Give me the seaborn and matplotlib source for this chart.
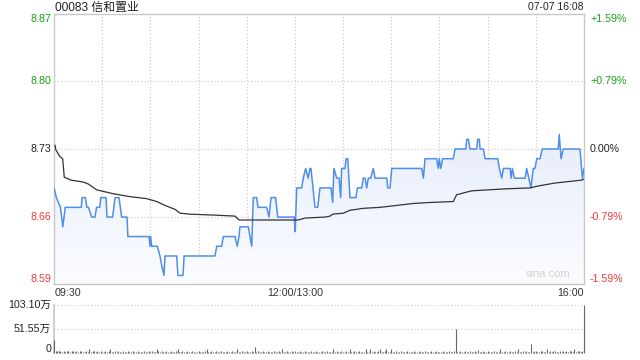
import numpy as np
import pandas as pd
import matplotlib
matplotlib.use("Agg")
import matplotlib.pyplot as plt
import seaborn as sns
from matplotlib.patches import Polygon
from matplotlib.colors import LinearSegmentedColormap
from matplotlib import transforms

# ---------------- data ----------------
title = "00083 信和置业"
stamp = "07-07 16:08"
prev_close = 8.73
price_ticks = [8.87, 8.80, 8.73, 8.66, 8.59]
pct_ticks = ["+1.59%", "+0.79%", "0.00%", "-0.79%", "-1.59%"]
time_labels = ["09:30", "12:00/13:00", "16:00"]
vol_ticks = ["103.10万", "51.55万", "0"]

# price polyline (minute index 0..330, price)
price_t = [0, 1.5, 4, 5.5, 7, 17, 17.5, 19.5, 20.5, 21.5, 23.5, 25.5, 26.5, 28.5, 29.1,
           32.4, 33, 36.5, 38, 40.5, 42.1, 45.5, 46, 59.2, 59.8, 60.2, 60.8, 64.3, 66,
           67.1, 68.5, 69.1, 76.4, 77.2, 80.3, 81, 100.2, 101.3, 104.4, 105.4, 112.7,
           114.1, 115.2, 115.8, 121, 123.1, 124.1, 126.2, 127, 132.4, 133.9, 135.1, 138,
           139.3, 149.6, 150.2, 151.1, 154.2, 155.2, 156.7, 158.2, 159.4, 160, 162.5,
           164.2, 165.6, 172.5, 173.5, 174.3, 176, 177.5, 178.5, 179.1, 181.2, 181.8,
           182.9, 184.3, 188, 188.9, 191.6, 192.6, 193.7, 194.7, 195.7, 197.2, 198.8,
           199.9, 207.2, 207.8, 209.2, 210.3, 229, 230, 231, 238.3, 239.3, 239.9, 240.8,
           242, 248.6, 249.7, 256.4, 257, 258, 259, 263.2, 263.8, 264.8, 265.3, 267.3,
           268.4, 276.3, 277.3, 278.8, 279.8, 284, 284.6, 285.4, 286.6, 293.3, 294.3,
           297, 298.4, 299.5, 300.6, 302.6, 304, 314, 314.6, 315.7, 317.1, 327.5, 329, 330]
price_v = [8.69, 8.68, 8.67, 8.65, 8.67, 8.67, 8.68, 8.68, 8.67, 8.67, 8.66, 8.66, 8.67,
           8.67, 8.68, 8.68, 8.66, 8.66, 8.68, 8.68, 8.66, 8.66, 8.64, 8.64, 8.63, 8.64,
           8.63, 8.63, 8.62, 8.61, 8.60, 8.62, 8.62, 8.60, 8.60, 8.62, 8.62, 8.63, 8.63,
           8.64, 8.64, 8.63, 8.64, 8.65, 8.65, 8.63, 8.68, 8.68, 8.67, 8.67, 8.66, 8.68,
           8.68, 8.66, 8.66, 8.645, 8.69, 8.69, 8.70, 8.71, 8.70, 8.71, 8.71, 8.67,
           8.67, 8.69, 8.69, 8.675, 8.71, 8.70, 8.70, 8.68, 8.71, 8.71, 8.72,
           8.72, 8.68, 8.68, 8.69, 8.69, 8.70, 8.70, 8.69, 8.70, 8.70, 8.71,
           8.70, 8.70, 8.69, 8.69, 8.71, 8.71, 8.70, 8.72, 8.72, 8.71, 8.72, 8.71,
           8.72, 8.72, 8.73, 8.73, 8.74, 8.74, 8.73, 8.73, 8.74, 8.74, 8.73, 8.73,
           8.72, 8.72, 8.71, 8.70, 8.71, 8.71, 8.70, 8.71, 8.70, 8.70, 8.71,
           8.69, 8.71, 8.71, 8.72, 8.72, 8.73, 8.73, 8.745, 8.72, 8.73, 8.73, 8.70, 8.71]

# average price polyline
avg_t = [0.6, 1.2, 3.7, 5.4, 6.4, 10.6, 18.2, 21.4, 26.6, 31.8, 36.9, 47.3, 57.7, 63.9,
         69.1, 75.3, 78.5, 84.7, 100.2, 112.7, 115.2, 152.1, 156.3, 168.7, 171.9, 173.5,
         180.1, 184.3, 192.6, 203, 213.4, 223.7, 234.1, 248.6, 250.7, 260.1, 270.4,
         280.8, 296.4, 301.6, 311.9, 328.6, 330]
avg_v = [8.734, 8.729, 8.722, 8.720, 8.701, 8.698, 8.696, 8.694, 8.688, 8.686, 8.684,
         8.681, 8.679, 8.676, 8.672, 8.668, 8.664, 8.663, 8.662, 8.661, 8.657, 8.657,
         8.659, 8.660, 8.661, 8.663, 8.664, 8.667, 8.669, 8.670, 8.672, 8.674, 8.675,
         8.676, 8.683, 8.687, 8.688, 8.689, 8.690, 8.692, 8.695, 8.698, 8.699]

# volume per minute (万股)
vol_v = [28, 5, 4, 4, 5, 3, 5, 3, 5, 4,
         3, 5, 4, 3, 5, 3, 4, 5, 3, 3,
         4, 3, 8, 3, 5, 4, 3, 5, 3, 4,
         3, 3, 5, 3, 4, 8, 3, 3, 5, 3,
         4, 3, 3, 5, 3, 3, 4, 3, 3, 5,
         3, 3, 4, 3, 3, 3, 5, 3, 3, 4,
         3, 5, 3, 3, 8, 4, 3, 5, 3, 3,
         4, 3, 3, 5, 3, 3, 4, 9, 3, 3,
         5, 3, 3, 4, 3, 3, 5, 3, 3, 3,
         4, 3, 3, 3, 5, 8, 3, 3, 4, 3,
         3, 5, 3, 3, 4, 3, 3, 3, 5, 3,
         3, 4, 3, 3, 8, 3, 3, 5, 3, 3,
         4, 3, 3, 5, 3, 12, 3, 4, 3, 3,
         5, 3, 3, 4, 3, 3, 3, 5, 3, 3,
         4, 3, 8, 3, 3, 5, 3, 3, 4, 3,
         5, 3, 3, 4, 3, 3, 5, 3, 3, 3,
         4, 3, 3, 5, 3, 3, 3, 4, 3, 3,
         5, 3, 3, 3, 8, 3, 4, 3, 3, 5,
         3, 3, 4, 3, 8, 3, 3, 5, 3, 3,
         4, 3, 3, 3, 8, 3, 3, 8, 3, 4,
         3, 3, 5, 8, 3, 3, 4, 8, 3, 3,
         9, 3, 3, 4, 3, 3, 5, 3, 3, 3,
         4, 3, 3, 3, 5, 3, 3, 3, 4, 3,
         3, 5, 3, 3, 3, 4, 3, 3, 5, 3,
         3, 3, 4, 3, 3, 3, 5, 3, 3, 4,
         51, 3, 3, 5, 3, 3, 4, 3, 3, 5,
         3, 3, 4, 3, 6, 3, 3, 5, 3, 3,
         4, 3, 3, 3, 5, 3, 3, 3, 8, 3,
         3, 5, 3, 3, 4, 3, 3, 5, 3, 8,
         3, 3, 4, 3, 5, 3, 3, 19, 3, 4,
         5, 3, 3, 4, 5, 3, 3, 8, 3, 5,
         3, 4, 5, 3, 3, 5, 3, 4, 3, 5,
         3, 5, 4, 3, 8, 3, 5, 4, 3, 5,
         103.1]
vol_t = list(range(len(vol_v)))

# ---------------- style ----------------
sns.set_theme(style="white")
plt.rcParams["font.family"] = ["Liberation Sans", "Noto Sans CJK SC", "DejaVu Sans"]

GREEN = "#1a9f1a"
RED = "#f23a3a"
BLACK = "#222222"
GRID = "#c9c9c9"
SPINE = "#c8c8c8"
BLUE = "#4f8eea"

W, H = 640, 360
fig = plt.figure(figsize=(6.4, 3.6), dpi=100)
ax = fig.add_axes([54 / W, 1 - 284 / H, 530 / W, 270 / H])
axv = fig.add_axes([54 / W, 1 - 353 / H, 530 / W, 48 / H])

ymin = prev_close * (1 - 0.0159)
ymax = prev_close * (1 + 0.0159)

# gradient fill under price line
poly = Polygon(list(zip(price_t, price_v)) + [(330, ymin), (0, ymin)], closed=True,
               facecolor="none", edgecolor="none", transform=ax.transData)
ax.add_patch(poly)
cmap = LinearSegmentedColormap.from_list("g", ["#fbfcff", "#d6e3f8"])
grad = np.linspace(0, 1, 256).reshape(-1, 1)
im = ax.imshow(grad, extent=[0, 330, ymin, ymax], aspect="auto", origin="lower",
               cmap=cmap, zorder=1, interpolation="bilinear")
im.set_clip_path(poly)

# grid
dot = (0, (1, 2))
for yv in price_ticks[1:-1]:
    ax.axhline(yv, color=GRID, lw=0.8, ls=dot, zorder=0.5)
for xv in range(30, 330, 30):
    ax.axvline(xv, color=GRID, lw=0.8, ls=dot, zorder=0.5)

df_p = pd.DataFrame({"t": price_t, "p": price_v})
df_a = pd.DataFrame({"t": avg_t, "p": avg_v})
sns.lineplot(data=df_p, x="t", y="p", ax=ax, color=BLUE, lw=1.1, estimator=None,
             sort=False, zorder=3)
sns.lineplot(data=df_a, x="t", y="p", ax=ax, color="#333333", lw=0.9, estimator=None,
             sort=False, zorder=4)

ax.set_xlim(0, 330)
ax.set_ylim(ymin, ymax)
ax.set_xticks([])
ax.set_yticks([])
ax.set_xlabel("")
ax.set_ylabel("")
for s in ax.spines.values():
    s.set_color(SPINE)
    s.set_linewidth(1)

fs = 7.7
colors = [GREEN, GREEN, BLACK, RED, RED]
vas = ["top", "center", "center", "center", "bottom"]
trL = transforms.blended_transform_factory(ax.transAxes, ax.transData)
offL = transforms.offset_copy(trL, fig=fig, x=-3, y=0, units="dots")
offR = transforms.offset_copy(trL, fig=fig, x=6, y=0, units="dots")
for i, yv in enumerate(price_ticks):
    yy = [ymax, yv, yv, yv, ymin][i]
    ax.text(0, yy, f"{yv:.2f}", transform=offL, ha="right", va=vas[i],
            color=colors[i], fontsize=fs)
    ax.text(1, yy, pct_ticks[i], transform=offR, ha="left", va=vas[i],
            color=colors[i], fontsize=fs)

ax.text(0.975, 0.02, "sina.com", transform=ax.transAxes, ha="right", va="bottom",
        color="#d2d2d2", fontsize=8)

# title / timestamp
fig.text(55 / W, 1 - 8 / H, title, ha="left", va="center", fontsize=8.6, color=BLACK)
fig.text(584 / W, 1 - 7.5 / H, stamp, ha="right", va="center", fontsize=7.5, color=BLACK)

# time labels
ty = 1 - 293.5 / H
fig.text(55 / W, ty, time_labels[0], ha="left", va="center", fontsize=fs, color="#333333")
fig.text(295 / W, ty, time_labels[1], ha="center", va="center", fontsize=fs, color="#333333")
fig.text(584 / W, ty, time_labels[2], ha="right", va="center", fontsize=fs, color="#333333")

# volume panel
axv.vlines(vol_t, 0, vol_v, color="#666666", lw=0.8, zorder=3, clip_on=False)
sns.despine(ax=axv, top=True, right=True, bottom=True, left=False)
axv.spines["left"].set_color(SPINE)
axv.set_xlim(0, 330)
axv.set_ylim(0, 103.1)
axv.set_xticks([])
axv.set_yticks([])
axv.axhline(103.1, color=GRID, lw=0.8, ls=dot, zorder=0.5)
axv.axhline(51.55, color=GRID, lw=0.8, ls=dot, zorder=0.5)
trV = transforms.offset_copy(transforms.blended_transform_factory(axv.transAxes, axv.transData),
                             fig=fig, x=-3, y=0, units="dots")
axv.text(0, 103.1, vol_ticks[0], transform=trV, ha="right", va="center", fontsize=fs, color=BLACK)
axv.text(0, 51.55, vol_ticks[1], transform=trV, ha="right", va="center", fontsize=fs, color=BLACK)
axv.text(0, 8, vol_ticks[2], transform=trV, ha="right", va="center", fontsize=fs, color=BLACK)

fig.savefig("out.png", dpi=100)
